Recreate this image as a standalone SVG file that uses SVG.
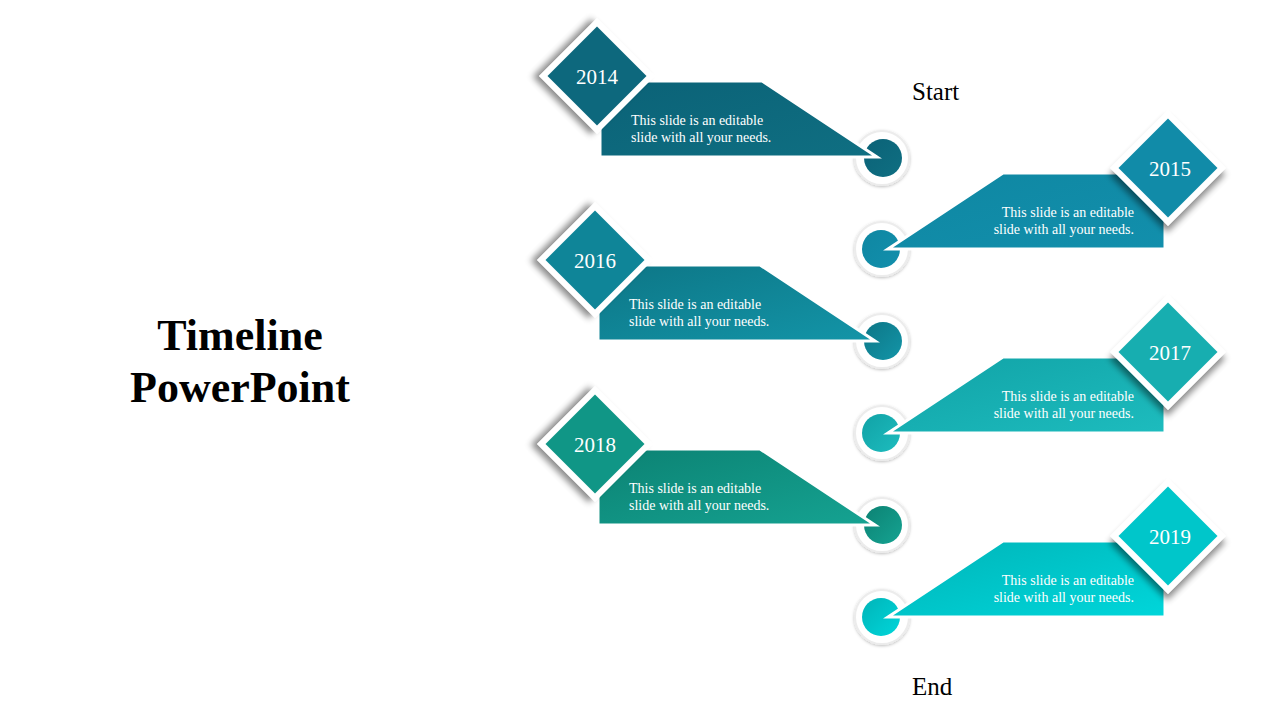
<svg xmlns="http://www.w3.org/2000/svg" width="1280" height="720" viewBox="0 0 1280 720">
<defs>
<filter id="sh" x="-30%" y="-30%" width="160%" height="160%"><feDropShadow dx="-4" dy="5" stdDeviation="3" flood-color="#000" flood-opacity="0.45"/></filter>
<filter id="shr" x="-30%" y="-30%" width="160%" height="160%"><feDropShadow dx="4" dy="5" stdDeviation="3" flood-color="#000" flood-opacity="0.45"/></filter>
<filter id="cs" x="-30%" y="-30%" width="160%" height="160%"><feDropShadow dx="0" dy="1" stdDeviation="1.5" flood-color="#000" flood-opacity="0.25"/></filter>
<linearGradient id="g1" x1="0" y1="0" x2="1" y2="1"><stop offset="0" stop-color="#0b6277"/><stop offset="1" stop-color="#0f6f82"/></linearGradient>
<linearGradient id="g2" x1="0" y1="0" x2="1" y2="1"><stop offset="0" stop-color="#0f87a2"/><stop offset="1" stop-color="#128fac"/></linearGradient>
<linearGradient id="g3" x1="0" y1="0" x2="1" y2="1"><stop offset="0" stop-color="#0d7686"/><stop offset="1" stop-color="#1395a8"/></linearGradient>
<linearGradient id="g4" x1="0" y1="0" x2="1" y2="1"><stop offset="0" stop-color="#11a2a6"/><stop offset="1" stop-color="#1dbcbe"/></linearGradient>
<linearGradient id="g5" x1="0" y1="0" x2="1" y2="1"><stop offset="0" stop-color="#0c8273"/><stop offset="1" stop-color="#15a392"/></linearGradient>
<linearGradient id="g6" x1="0" y1="0" x2="1" y2="1"><stop offset="0" stop-color="#00b4b8"/><stop offset="1" stop-color="#00d6da"/></linearGradient>
</defs>
<style>
.yr{font-family:"Liberation Serif",serif;font-size:21px;fill:#fff;text-anchor:middle}
.d{font-family:"Liberation Serif",serif;font-size:14px;fill:#fff}
.lbl{font-family:"Liberation Serif",serif;font-size:25px;fill:#000}
.title{font-family:"Liberation Serif",serif;font-size:44px;font-weight:bold;fill:#000;text-anchor:middle}
.ring{fill:#fff;stroke:#ececec;stroke-width:2}
.ban{stroke:#fff;stroke-width:3;stroke-linejoin:miter}
</style>
<g id="title"><text class="title" x="240" y="350">Timeline</text><text class="title" x="240" y="402">PowerPoint</text></g>
<text class="lbl" x="912" y="100">Start</text>
<text class="lbl" x="912" y="695">End</text>
<g id="connectors"></g>
<g id="n2014">
<circle class="ring" cx="882" cy="158" r="27" filter="url(#cs)"/><circle cx="883" cy="158" r="19" fill="url(#g1)"/>
<polygon class="ban" points="600,81 762,81 877,157 600,157" fill="url(#g1)"/>
<rect x="556" y="35" width="82" height="82" transform="rotate(45 597 76)" fill="#fff" filter="url(#sh)"/>
<rect x="562" y="41" width="70" height="70" transform="rotate(45 597 76)" fill="#0d687d"/>
<text class="yr" x="597" y="84">2014</text>
<text class="d" x="631" y="125">This slide is an editable</text><text class="d" x="631" y="142">slide with all your needs.</text>
</g>
<g id="n2015">
<circle class="ring" cx="882" cy="249" r="27" filter="url(#cs)"/><circle cx="881" cy="249" r="19" fill="url(#g2)"/>
<polygon class="ban" points="1165,173 1003,173 888,249 1165,249" fill="url(#g2)"/>
<rect x="1127" y="127" width="82" height="82" transform="rotate(45 1168 168)" fill="#fff" filter="url(#shr)"/>
<rect x="1133" y="133" width="70" height="70" transform="rotate(45 1168 168)" fill="#118ba8"/>
<text class="yr" x="1170" y="176">2015</text>
<text class="d" x="1134" y="217" text-anchor="end">This slide is an editable</text><text class="d" x="1134" y="234" text-anchor="end">slide with all your needs.</text>
</g>
<g id="n2016">
<circle class="ring" cx="882" cy="341" r="27" filter="url(#cs)"/><circle cx="883" cy="341" r="19" fill="url(#g3)"/>
<polygon class="ban" points="598,265 760,265 875,341 598,341" fill="url(#g3)"/>
<rect x="554" y="219" width="82" height="82" transform="rotate(45 595 260)" fill="#fff" filter="url(#sh)"/>
<rect x="560" y="225" width="70" height="70" transform="rotate(45 595 260)" fill="#0f8598"/>
<text class="yr" x="595" y="268">2016</text>
<text class="d" x="629" y="309">This slide is an editable</text><text class="d" x="629" y="326">slide with all your needs.</text>
</g>
<g id="n2017">
<circle class="ring" cx="882" cy="433" r="27" filter="url(#cs)"/><circle cx="881" cy="433" r="19" fill="url(#g4)"/>
<polygon class="ban" points="1165,357 1003,357 888,433 1165,433" fill="url(#g4)"/>
<rect x="1127" y="311" width="82" height="82" transform="rotate(45 1168 352)" fill="#fff" filter="url(#shr)"/>
<rect x="1133" y="317" width="70" height="70" transform="rotate(45 1168 352)" fill="#17aeb0"/>
<text class="yr" x="1170" y="360">2017</text>
<text class="d" x="1134" y="401" text-anchor="end">This slide is an editable</text><text class="d" x="1134" y="418" text-anchor="end">slide with all your needs.</text>
</g>
<g id="n2018">
<circle class="ring" cx="882" cy="525" r="27" filter="url(#cs)"/><circle cx="883" cy="525" r="19" fill="url(#g5)"/>
<polygon class="ban" points="598,449 760,449 875,525 598,525" fill="url(#g5)"/>
<rect x="554" y="403" width="82" height="82" transform="rotate(45 595 444)" fill="#fff" filter="url(#sh)"/>
<rect x="560" y="409" width="70" height="70" transform="rotate(45 595 444)" fill="#109686"/>
<text class="yr" x="595" y="452">2018</text>
<text class="d" x="629" y="493">This slide is an editable</text><text class="d" x="629" y="510">slide with all your needs.</text>
</g>
<g id="n2019">
<circle class="ring" cx="882" cy="617" r="27" filter="url(#cs)"/><circle cx="881" cy="617" r="19" fill="url(#g6)"/>
<polygon class="ban" points="1165,541 1003,541 888,617 1165,617" fill="url(#g6)"/>
<rect x="1127" y="495" width="82" height="82" transform="rotate(45 1168 536)" fill="#fff" filter="url(#shr)"/>
<rect x="1133" y="501" width="70" height="70" transform="rotate(45 1168 536)" fill="#00c6ca"/>
<text class="yr" x="1170" y="544">2019</text>
<text class="d" x="1134" y="585" text-anchor="end">This slide is an editable</text><text class="d" x="1134" y="602" text-anchor="end">slide with all your needs.</text>
</g>
</svg>
